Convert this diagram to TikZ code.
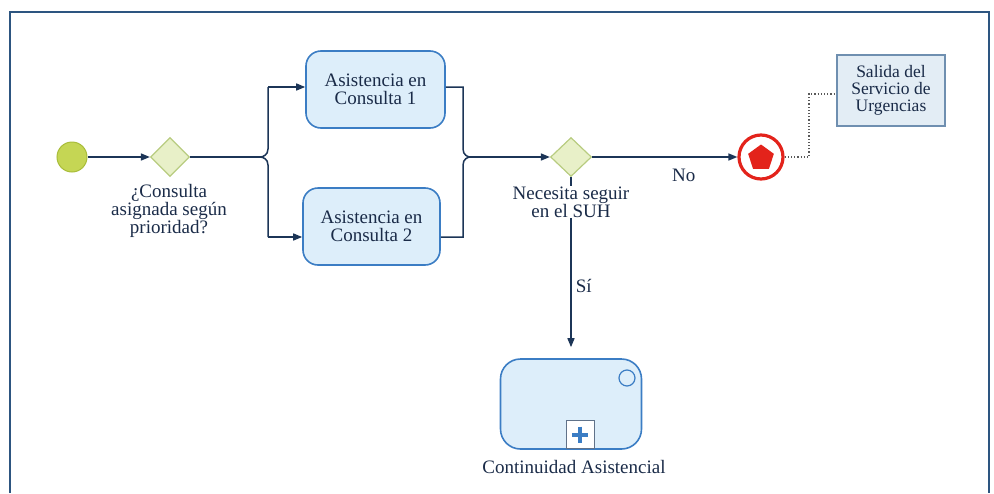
\documentclass[tikz,border=0pt]{standalone}
\usepackage{fontspec}
\setmainfont{Liberation Serif}
\usetikzlibrary{arrows.meta,shapes.geometric,calc}
\definecolor{navy}{HTML}{1C3557}
\definecolor{txt}{HTML}{1A2B48}
\definecolor{framec}{HTML}{2D5580}
\definecolor{taskfill}{HTML}{DDEEFA}
\definecolor{taskdraw}{HTML}{3B7DC4}
\definecolor{startfill}{HTML}{C5D654}
\definecolor{startdraw}{HTML}{A9BD3A}
\definecolor{gwfill}{HTML}{E8F0C8}
\definecolor{gwdraw}{HTML}{B8CC80}
\definecolor{endred}{HTML}{E3231B}
\definecolor{notefill}{HTML}{E3EDF5}
\definecolor{notedraw}{HTML}{6F8FB0}
\begin{document}
\begin{tikzpicture}[x=1pt,y=-1pt,
  font=\fontsize{19}{18}\selectfont, text=txt,
  frameline/.style={draw=framec,line width=2pt},
  task/.style={draw=taskdraw,fill=taskfill,line width=1.6pt,rounded corners=15pt,align=center,inner sep=0pt},
  startev/.style={circle,draw=startdraw,fill=startfill,line width=1pt,minimum size=30pt,inner sep=0pt},
  gw/.style={diamond,draw=gwdraw,fill=gwfill,line width=1.2pt,minimum width=39pt,minimum height=39pt,inner sep=0pt},
  endev/.style={circle,draw=endred,fill=white,line width=3.2pt,minimum size=44pt,inner sep=0pt},
  pent/.style={regular polygon,regular polygon sides=5,fill=endred,minimum size=27pt,inner sep=0pt},
  note/.style={draw=notedraw,fill=notefill,line width=1.2pt,align=center,inner sep=0pt,minimum width=108pt,minimum height=71pt,font=\fontsize{17.5}{17}\selectfont},
  lbl/.style={align=center,inner sep=0pt},
  line/.style={draw=navy,line width=1.5pt},
  flow/.style={line,-{Triangle[length=9pt,width=7pt]}},
  assoc/.style={draw=gray!70!black,line width=1.2pt,dotted}
]
\useasboundingbox (0,0) rectangle (994,493);
\draw[frameline] (10,493) -- (10,12) -- (989,12) -- (989,493);

% nodes
\node[startev] (start) at (72,157) {};
\node[gw] (gw1) at (170,157) {};
\node[lbl] (gw1lbl) at (169,211) {¿Consulta\\asignada según\\prioridad?};
\node[task,minimum width=139pt,minimum height=77pt] (t1) at (375.5,89.5) {Asistencia en\\Consulta 1};
\node[task,minimum width=137pt,minimum height=77pt] (t2) at (371.5,226.5) {Asistencia en\\Consulta 2};
\node[gw,minimum width=41pt] (gw2) at (571,157) {};
\node[endev] (endev) at (761,157) {};
\node[pent] (pent) at (761,158) {};
\node[note] (note) at (891,90.5) {Salida del\\Servicio de\\Urgencias};
\node[task,rounded corners=20pt,minimum width=141pt,minimum height=90pt] (t3) at (571,404) {};
\node[circle,draw=taskdraw,line width=1.2pt,minimum size=16pt,inner sep=0pt] (t3circ) at (627,378) {};
\node[draw=navy!70,fill=white,line width=1pt,minimum width=28pt,minimum height=28pt,inner sep=0pt,anchor=south] (plus) at (580,449) {};
\draw[taskdraw,line width=4pt] ($(plus.center)+(-8,0)$) -- ($(plus.center)+(8,0)$);
\draw[taskdraw,line width=4pt] ($(plus.center)+(0,-8)$) -- ($(plus.center)+(0,8)$);
\node[lbl] (t3lbl) at (574,467) {Continuidad Asistencial};

% brace coordinates
\coordinate (b1) at (260,157);
\coordinate (b1t) at (268,87);
\coordinate (b1b) at (268,237);
\coordinate (b2) at (470,157);
\coordinate (b2t) at (463,87);
\coordinate (b2b) at (463,237);
\coordinate (ac) at (809,94);

% connectors
\draw[flow] (start) -- (gw1);
\draw[line] (gw1) -- (b1);
\draw[line] (b1t) -- (268,149) .. controls (268,155) and (263,157) .. (b1) .. controls (263,157) and (268,159) .. (268,165) -- (b1b);
\draw[flow] (b1t) -- (b1t -| t1.west);
\draw[flow] (b1b) -- (b1b -| t2.west);
\draw[line] (b2t -| t1.east) -- (b2t) -- (463,149) .. controls (463,155) and (468,157) .. (b2) .. controls (468,157) and (463,159) .. (463,165) -- (b2b) -- (b2b -| t2.east);
\draw[flow] (b2) -- (gw2);
\draw[flow] (gw2) -- node[pos=0.63,below=11pt,inner sep=0pt] (no) {No} (endev);
\draw[flow,shorten >=11pt] (gw2) -- node[pos=0.6,right=4pt,inner sep=0pt] (si) {Sí} (t3);
\draw[assoc] (endev.east) -| (ac) -- (ac -| note.west);

% label drawn over the Sí line
\node[lbl,fill=white,inner sep=1pt] (gw2lbl) at (571,202) {Necesita seguir\\en el SUH};
\end{tikzpicture}
\end{document}
